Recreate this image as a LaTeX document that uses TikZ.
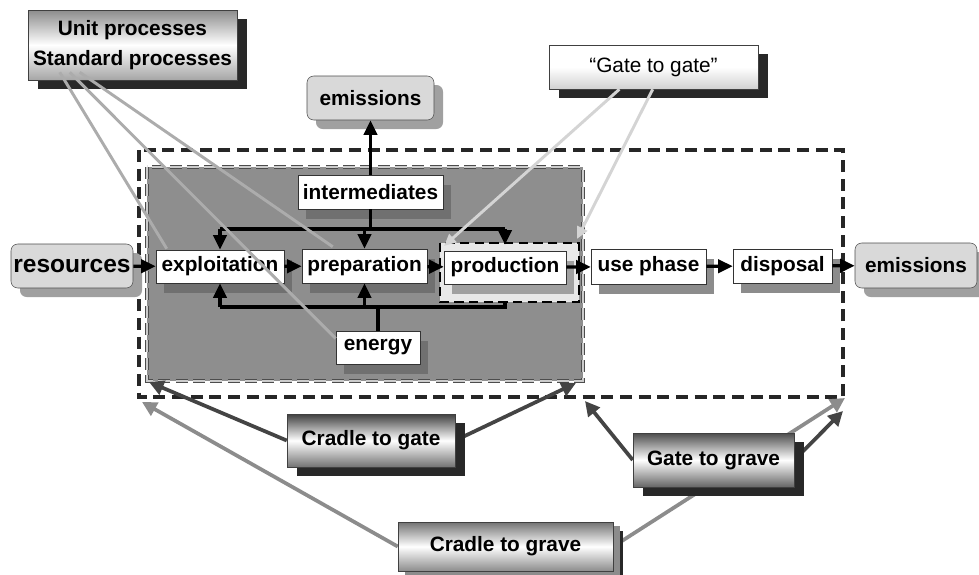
\documentclass[tikz,border=0pt]{standalone}
\usepackage{fontspec}
\setmainfont{Liberation Sans}
\usetikzlibrary{arrows.meta,shadows}

\definecolor{panelgrey}{RGB}{142,142,142}
\definecolor{pillgrey}{RGB}{217,217,217}
\definecolor{pillshadow}{RGB}{160,160,160}
\definecolor{darkshadow}{RGB}{40,40,40}
\definecolor{inshadow}{RGB}{112,112,112}
\definecolor{outshadow}{RGB}{140,140,140}
\definecolor{linkdark}{RGB}{68,68,68}
\definecolor{linkmid}{RGB}{140,140,140}
\definecolor{linklight}{RGB}{172,172,172}
\definecolor{linkpale}{RGB}{212,212,212}
\definecolor{prodfill}{RGB}{232,232,232}

\pgfdeclarelayer{back}
\pgfdeclarelayer{links}
\pgfsetlayers{back,links,main}

\tikzset{every picture/.style={line width=0.75pt}}
\tikzset{
  lbl/.style={font=\fontsize{15.6}{18}\selectfont\bfseries},
  procbox/.style={lbl, draw=black!80, fill=white, inner sep=0pt,
    drop shadow={shadow xshift=6pt, shadow yshift=-7.5pt, fill=#1, opacity=1}},
  procbox/.default=inshadow,
  pill/.style={lbl, draw=black!70, fill=pillgrey, rounded corners=5pt, inner sep=0pt,
    drop shadow={shadow xshift=6.75pt, shadow yshift=-6.75pt, fill=pillshadow, opacity=1}},
  tag/.style={lbl, draw=black!75, inner sep=0pt, shade,
    drop shadow={shadow xshift=7.5pt, shadow yshift=-6.75pt, fill=darkshadow, opacity=1}},
  flow/.style={line width=2.5pt, -{Triangle[length=11pt,width=10pt]}},
  bus/.style={line width=2.5pt},
  reach/.style={line width=2.8pt, -{Triangle[length=11pt,width=11pt]}},
  hint/.style={line width=2.2pt, draw=linklight}
}

\begin{document}
\begin{tikzpicture}[x=0.75pt,y=0.75pt,yscale=-1,xscale=1]
\useasboundingbox (0,0) rectangle (979,575);

\begin{pgfonlayer}{back}
%Shape: Rectangle (whole life cycle)
\draw [draw=black!85, line width=2.8pt, dash pattern=on 9pt off 5pt] (139,150) rectangle (843,397);
%Shape: Rectangle (grey production block)
\draw [fill=panelgrey, draw=black!70, double=black!20, double distance=1.4pt, line width=0.7pt, dash pattern=on 9pt off 4pt] (147,167) rectangle (583,381);
%Shape: Rectangle (gate to gate frame)
\draw [fill=prodfill, draw=black, line width=2pt, dash pattern=on 7pt off 4pt] (440,243) rectangle (579,302);
\end{pgfonlayer}

\coordinate (pbNW) at (444,246);
\coordinate (pbNE) at (577,239);

% Text Node
\node [tag, top color=black!45, bottom color=black!35, middle color=white, align=center,
  font=\fontsize{15.6}{22.5}\selectfont\bfseries, minimum width=156.75pt, minimum height=52.5pt]
  (unit) at (132.5,45) {Unit processes\\Standard processes};
% Text Node
\node [tag, top color=white, bottom color=black!18, middle color=white, font=\fontsize{15.6}{18}\selectfont,
  minimum width=156.75pt, minimum height=33pt] (gtg) at (653.5,67) {“Gate to gate”};
% Text Node
\node [pill, minimum width=95.25pt, minimum height=33pt] (emtop) at (370.5,98) {emissions};
% Text Node
\node [procbox, minimum width=108.75pt, minimum height=25.5pt] (inter) at (370.5,192) {intermediates};
% Text Node
\node [pill, font=\fontsize{18.4}{20}\selectfont\bfseries, minimum width=91.5pt, minimum height=33pt] (res) at (72,266) {resources};
% Text Node
\node [procbox, minimum width=96pt, minimum height=24.75pt] (expl) at (220,266.5) {exploitation};
% Text Node
\node [procbox, minimum width=93.75pt, minimum height=25.5pt] (prep) at (364.5,266) {preparation};
% Text Node
\node [procbox=pillshadow, minimum width=91.5pt, minimum height=24.75pt] (prod) at (505,267.5) {production};
% Text Node
\node [procbox=outshadow, minimum width=86.25pt, minimum height=26.25pt] (use) at (648.5,266.5) {use phase};
% Text Node
\node [procbox=outshadow, minimum width=74.25pt, minimum height=25.5pt] (disp) at (782.5,266) {disposal};
% Text Node
\node [pill, minimum width=91.5pt, minimum height=33.75pt] (emright) at (916,265.5) {emissions};
% Text Node
\node [procbox, minimum width=63pt, minimum height=24.75pt] (energy) at (378,347.5) {energy};
% Text Node
\node [tag, top color=black!75, bottom color=black!55, middle color=white, minimum width=126pt, minimum height=39.75pt] (c2gate) at (371,440.5) {Cradle to gate};
% Text Node
\node [tag, top color=black!70, bottom color=black!60, middle color=white, minimum width=120.75pt, minimum height=40.5pt] (g2grave) at (713.5,460) {Gate to grave};
% Text Node
\node [tag, top color=black!55, bottom color=black!45, middle color=white, minimum width=161.25pt, minimum height=36.75pt,
  drop shadow={shadow xshift=5pt, shadow yshift=-3pt, fill=outshadow, opacity=1}] (c2grave) at (505.5,546.5) {Cradle to grave};

% bus lines for intermediates and energy
\coordinate (ibus) at (219,229);
\coordinate (ebus) at (219,307);

\draw [flow] (inter.north) -- (emtop.south);
\draw [bus] (inter.south) -- (inter.south |- ibus);
\draw [bus] (expl.north |- ibus) -- (prod.north |- ibus);
\draw [flow] (expl.north |- ibus) -- (expl.north);
\draw [flow] (prep.north |- ibus) -- (prep.north);
\draw [flow, shorten >=4.5pt] (prod.north |- ibus) -- (prod.north);

\draw [bus] (energy.north) -- (energy.north |- ebus);
\draw [bus] (expl.south |- ebus) -- (prod.south |- ebus) -- ++(0,-5);
\draw [flow] (expl.south |- ebus) -- (expl.south);
\draw [flow] (prep.south |- ebus) -- (prep.south);

% main chain
\draw [flow] (res) -- (expl);
\draw [flow] (expl) -- (prep);
\draw [flow] (prep) -- (prod);
\draw [flow] (prod) -- (use);
\draw [flow] (use) -- (disp);
\draw [flow] (disp) -- (emright);

% system boundaries
\coordinate (inBL) at (149,382);
\coordinate (inBR) at (576,383);
\coordinate (outBL) at (142,402);
\coordinate (outBM) at (585,401);
\coordinate (outBR) at (845,398);
\coordinate (outBR2) at (843,411);

\begin{pgfonlayer}{links}
\draw [reach, draw=linkdark, fill=linkdark] (c2gate.west) -- (inBL);
\draw [reach, draw=linkdark, fill=linkdark] (c2gate.east) -- (inBR);
\draw [reach, draw=linkdark, fill=linkdark] (g2grave.west) -- (outBM);
\draw [reach, draw=linkdark, fill=linkdark] (g2grave.east) -- (outBR2);
\draw [reach, draw=linkmid, fill=linkmid] (c2grave.west) -- (outBL);
\draw [reach, draw=linkmid, fill=linkmid] (c2grave.east) -- (outBR);
\end{pgfonlayer}

% unit process pointers
\draw [hint] ([shift={(32,-8)}]unit.south west) -- ([shift={(11,-1)}]expl.north west);
\draw [hint] ([shift={(42,-8)}]unit.south west) -- ([shift={(0,-9)}]energy.west);
\draw [hint] ([shift={(52,-8)}]unit.south west) -- ([shift={(31,-2)}]prep.north west);

% gate to gate pointers
\draw [hint, draw=linkpale, -{Triangle[length=9pt,width=8pt]}] ([xshift=53]gtg.south west) -- (pbNW);
\draw [hint, draw=linkpale, -{Triangle[length=9pt,width=8pt]}] ([xshift=78]gtg.south west) -- (pbNE);

\end{tikzpicture}
\end{document}
